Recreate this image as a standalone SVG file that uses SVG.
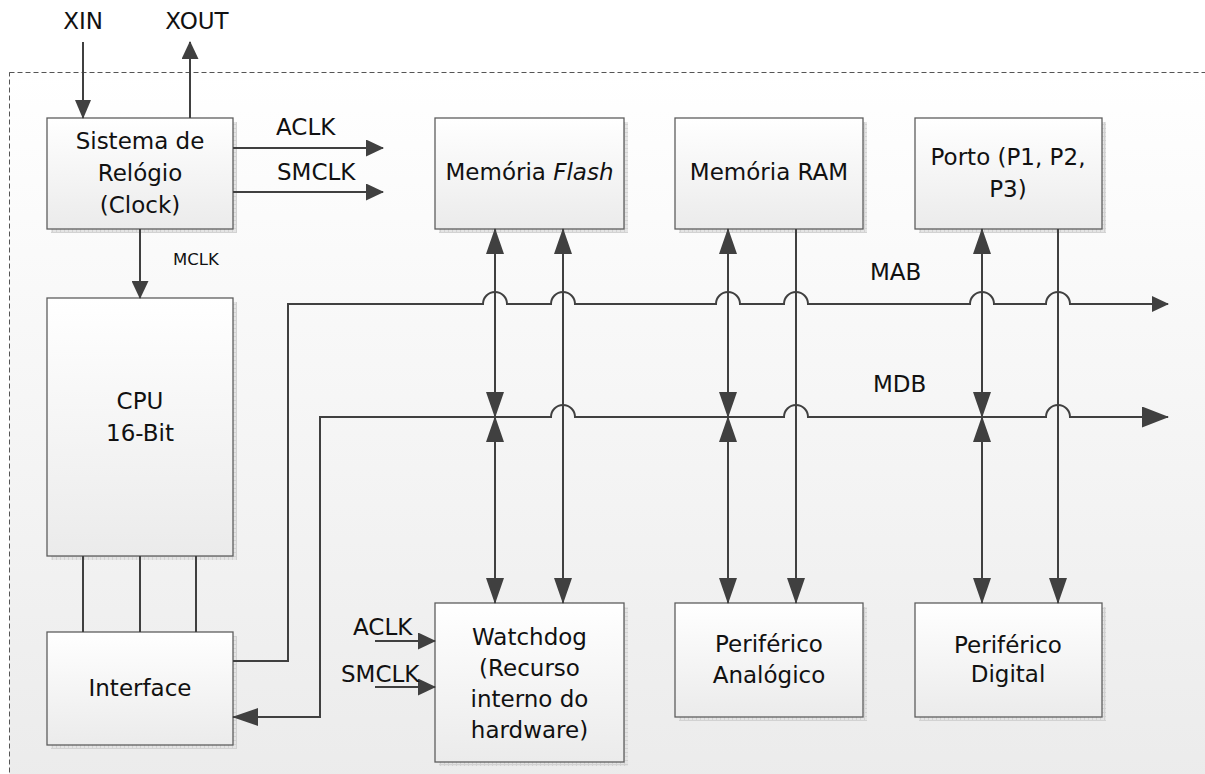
<svg xmlns="http://www.w3.org/2000/svg" width="1205" height="774" viewBox="0 0 1205 774">
  <defs>
    <linearGradient id="bgGrad" x1="0" y1="0" x2="0" y2="1">
      <stop offset="0" stop-color="#ffffff"/>
      <stop offset="1" stop-color="#ebebeb"/>
    </linearGradient>
    <linearGradient id="boxGrad" x1="0" y1="0" x2="0" y2="1">
      <stop offset="0" stop-color="#ffffff"/>
      <stop offset="1" stop-color="#ebebeb"/>
    </linearGradient>
    <pattern id="shadowGrid" width="4" height="4" patternUnits="userSpaceOnUse">
      <rect width="4" height="4" fill="#e4e4e4"/>
      <path d="M0,0.5 H4 M0.5,0 V4" stroke="#d2d2d2" stroke-width="1"/>
    </pattern>
    <!-- arrowheads -->
    <marker id="big" markerUnits="userSpaceOnUse" markerWidth="26" markerHeight="18" refX="25" refY="9" orient="auto-start-reverse">
      <path d="M0,0 L26,9 L0,18 Z" fill="#404040"/>
    </marker>
    <marker id="bus" markerUnits="userSpaceOnUse" markerWidth="27" markerHeight="21" refX="26" refY="10.5" orient="auto-start-reverse">
      <path d="M0,0 L27,10.5 L0,21 Z" fill="#404040"/>
    </marker>
    <marker id="bus2" markerUnits="userSpaceOnUse" markerWidth="17" markerHeight="16" refX="16" refY="8" orient="auto">
      <path d="M0,0 L17,8 L0,16 Z" fill="#404040"/>
    </marker>
    <marker id="small" markerUnits="userSpaceOnUse" markerWidth="18" markerHeight="17" refX="17" refY="8.5" orient="auto">
      <path d="M0,0 L18,8.5 L0,17 Z" fill="#404040"/>
    </marker>
    <marker id="narrow" markerUnits="userSpaceOnUse" markerWidth="19" markerHeight="16" refX="18" refY="8" orient="auto">
      <path d="M0,0 L19,8 L0,16 Z" fill="#404040"/>
    </marker>
  </defs>
  <style>
    .box { fill: url(#boxGrad); stroke: #5e5e5e; stroke-width: 1.3; }
    .shadow { fill: url(#shadowGrid); }
    .wire { fill: none; stroke: #404040; stroke-width: 2; }
    text { font-family: "DejaVu Sans", "Liberation Sans", sans-serif; font-size: 23px; fill: #111; }
    .c { text-anchor: middle; }
    .sm { font-size: 16.5px; }
  </style>

  <!-- board outline -->
  <rect x="9.5" y="72.5" width="1210" height="720" fill="url(#bgGrad)" stroke="#555" stroke-width="1" stroke-dasharray="5,3"/>

  <!-- external pins -->
  <text x="83" y="29" class="c">XIN</text>
  <text x="197" y="29" class="c">XOUT</text>

  <g id="clock">
    <rect class="shadow" x="51" y="122" width="186" height="111"/>
    <rect class="box" x="47" y="118" width="186" height="111"/>
    <text x="140" y="149" class="c">Sistema de</text>
    <text x="140" y="181" class="c">Relógio</text>
    <text x="140" y="213" class="c">(Clock)</text>
  </g>

  <g id="cpu">
    <rect class="shadow" x="51" y="302" width="186" height="258"/>
    <rect class="box" x="47" y="298" width="186" height="258"/>
    <text x="140" y="409" class="c">CPU</text>
    <text x="140" y="441" class="c">16-Bit</text>
  </g>

  <g id="interface">
    <rect class="shadow" x="51" y="636" width="186" height="113"/>
    <rect class="box" x="47" y="632" width="186" height="113"/>
    <text x="140" y="696" class="c">Interface</text>
  </g>

  <g id="flash">
    <rect class="shadow" x="439" y="122" width="189" height="111"/>
    <rect class="box" x="435" y="118" width="189" height="111"/>
    <text x="529.5" y="180" class="c">Memória <tspan font-style="italic">Flash</tspan></text>
  </g>

  <g id="ram">
    <rect class="shadow" x="679" y="122" width="188" height="111"/>
    <rect class="box" x="675" y="118" width="188" height="111"/>
    <text x="769" y="180" class="c">Memória RAM</text>
  </g>

  <g id="porto">
    <rect class="shadow" x="919" y="122" width="187" height="111"/>
    <rect class="box" x="915" y="118" width="187" height="111"/>
    <text x="1008" y="165" class="c">Porto (P1, P2,</text>
    <text x="1008" y="197" class="c">P3)</text>
  </g>

  <g id="watchdog">
    <rect class="shadow" x="439" y="607" width="189" height="159"/>
    <rect class="box" x="435" y="603" width="189" height="159"/>
    <text x="529.5" y="645" class="c">Watchdog</text>
    <text x="529.5" y="676" class="c">(Recurso</text>
    <text x="529.5" y="707" class="c">interno do</text>
    <text x="529.5" y="738" class="c">hardware)</text>
  </g>

  <g id="analogico">
    <rect class="shadow" x="679" y="607" width="188" height="114"/>
    <rect class="box" x="675" y="603" width="188" height="114"/>
    <text x="769" y="652" class="c">Periférico</text>
    <text x="769" y="683" class="c">Analógico</text>
  </g>

  <g id="digital">
    <rect class="shadow" x="919" y="607" width="187" height="114"/>
    <rect class="box" x="915" y="603" width="187" height="114"/>
    <text x="1008" y="653" class="c">Periférico</text>
    <text x="1008" y="682" class="c">Digital</text>
  </g>

  <g id="connectors">
    <!-- clock signals -->
    <path class="wire" d="M83,42 V118" marker-end="url(#narrow)"/>
    <path class="wire" d="M190,118 V42" marker-end="url(#small)"/>
    <path class="wire" d="M233,148 H383" marker-end="url(#small)"/>
    <path class="wire" d="M233,192 H383" marker-end="url(#small)"/>
    <path class="wire" d="M140,229 V298" marker-end="url(#small)"/>
    <path class="wire" d="M375,641 H435" marker-end="url(#small)"/>
    <path class="wire" d="M375,687 H435" marker-end="url(#small)"/>

    <!-- CPU to interface -->
    <path class="wire" d="M83,556 V632 M140,556 V632 M196,556 V632"/>

    <!-- MAB -->
    <path class="wire" d="M233,661 H288 V304 H483 a12,12 0 0 1 24,0 H551 a12,12 0 0 1 24,0 H716 a12,12 0 0 1 24,0 H784 a12,12 0 0 1 24,0 H970 a12,12 0 0 1 24,0 H1046 a12,12 0 0 1 24,0 H1168" marker-end="url(#bus2)"/>

    <!-- MDB -->
    <path class="wire" d="M233,717 H320 V417 H551 a12,12 0 0 1 24,0 H784 a12,12 0 0 1 24,0 H1046 a12,12 0 0 1 24,0 H1168" marker-start="url(#big)" marker-end="url(#bus)"/>

    <!-- memory / peripheral links -->
    <path class="wire" d="M495,229 V417" marker-start="url(#big)" marker-end="url(#big)"/>
    <path class="wire" d="M495,417 V603" marker-start="url(#big)" marker-end="url(#big)"/>
    <path class="wire" d="M563,229 V603" marker-start="url(#big)" marker-end="url(#big)"/>
    <path class="wire" d="M728,229 V417" marker-start="url(#big)" marker-end="url(#big)"/>
    <path class="wire" d="M728,417 V603" marker-start="url(#big)" marker-end="url(#big)"/>
    <path class="wire" d="M796,229 V603" marker-end="url(#big)"/>
    <path class="wire" d="M982,229 V417" marker-start="url(#big)" marker-end="url(#big)"/>
    <path class="wire" d="M982,417 V603" marker-start="url(#big)" marker-end="url(#big)"/>
    <path class="wire" d="M1058,229 V603" marker-end="url(#big)"/>
  </g>

  <!-- signal labels -->
  <text x="276" y="135">ACLK</text>
  <text x="277" y="180">SMCLK</text>
  <text x="173" y="265" class="sm">MCLK</text>
  <text x="870" y="280">MAB</text>
  <text x="873" y="392">MDB</text>
  <text x="353" y="635">ACLK</text>
  <text x="341" y="682">SMCLK</text>
</svg>
